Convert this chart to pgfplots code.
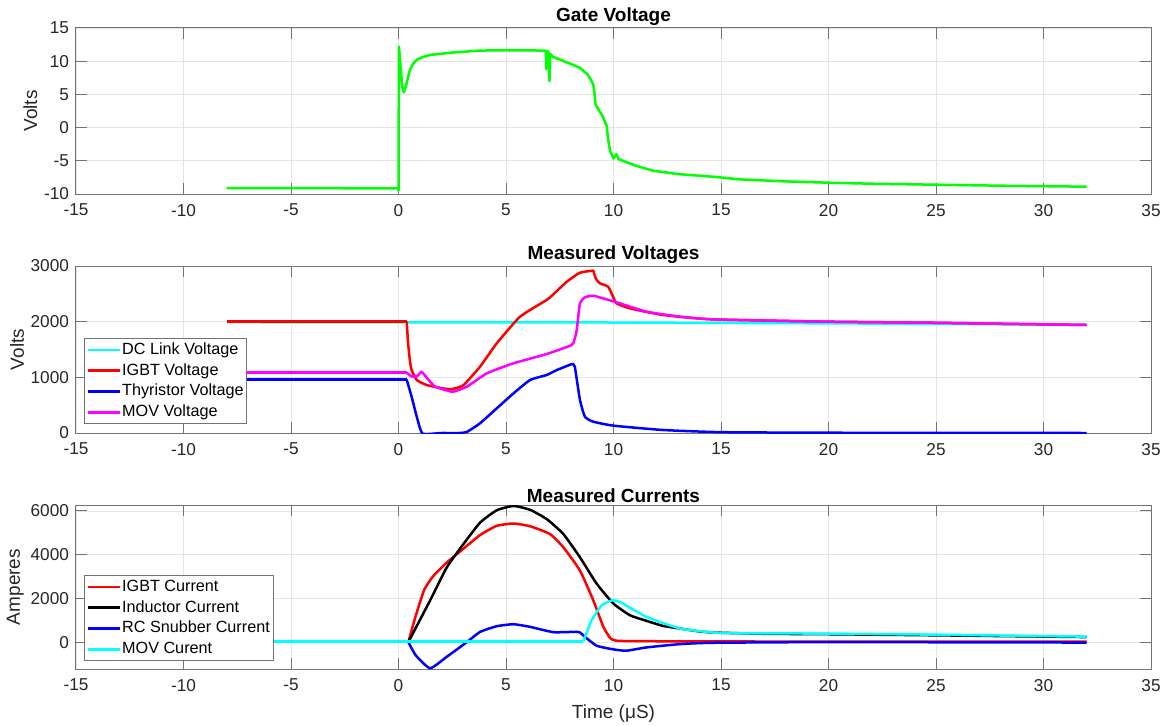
\documentclass[border=0pt]{standalone}
\usepackage{fontspec}
\setmainfont{Liberation Sans}
\usepackage{pgfplots}
\pgfplotsset{compat=1.18}

\definecolor{mgreen}{rgb}{0,1,0}
\definecolor{mcyan}{rgb}{0,1,1}
\definecolor{mred}{rgb}{1,0,0}
\definecolor{mblue}{rgb}{0,0,1}
\definecolor{mmag}{rgb}{1,0,1}
\definecolor{axgray}{gray}{0.45}
\definecolor{txt}{gray}{0.15}

\pgfplotsset{
  mat/.style={
    scale only axis, width=537.5pt,
    xmin=-15, xmax=35, xtick={-15,-10,...,35},
    grid=major, grid style={line width=0.4pt, draw=black!10},
    axis line style={draw=axgray, line width=0.5pt},
    tick style={draw=axgray, line width=0.5pt},
    tick align=inside, major tick length=5.4pt,
    /pgf/number format/assume math mode=true,
    /pgf/number format/1000 sep={},
    scaled y ticks=false,
    tick label style={font=\fontsize{8.6}{10}\selectfont, text=txt},
    xticklabel style={yshift=-1.5pt},
    label style={font=\fontsize{9.5}{11}\selectfont, text=txt},
    ylabel style={yshift=-3.5pt},
    title style={font=\fontsize{9.5}{11}\selectfont\bfseries, yshift=-8.5pt},
    every axis plot/.append style={line width=1.25pt, line join=round},
    sm/.style={smooth, tension=0.3},
    legend style={font=\fontsize{8.1}{9}\selectfont, draw=axgray, line width=0.5pt,
      inner sep=1pt, row sep=1.2pt,
      nodes={inner sep=0.6pt, text height=6.2pt, text depth=1.8pt},
      cells={anchor=west}},
    legend image code/.code={\draw[#1] (0pt,0pt) -- (16pt,0pt);},
  }
}

\begin{document}
\begin{tikzpicture}
\path[use as bounding box] (0,0) rectangle (583.5pt,362.5pt);

% gate voltage
\begin{axis}[mat, at={(38pt,265.5pt)}, anchor=south west, height=83pt,
  ymin=-10, ymax=15, ytick={-10,-5,...,15},
  title={Gate Voltage}, ylabel={Volts}]
\addplot[mgreen] coordinates {(-8,-9.1) (-0.02,-9.15) (0,-9.5) (0.02,12.2) (0.1,9) (0.18,6.0) (0.25,5.3) (0.35,6.3) (0.53,8.7) (0.7,9.7) (0.85,10.2) (1.1,10.6) (1.47,10.95) (2.5,11.3) (3.8,11.6) (5,11.65) (6.85,11.6) (6.88,8.8) (6.92,11.5) (6.98,11.4) (7.02,7.0) (7.06,11.1) (7.2,10.65) (8.0,9.6) (8.44,9.0) (8.8,8) (9.06,6.5) (9.12,5.0) (9.16,3.5) (9.3,2.75) (9.5,1.7) (9.68,0.25) (9.76,-2) (9.84,-3.5) (10.0,-4.65) (10.13,-4.0) (10.24,-4.75) (11,-5.7) (11.85,-6.5) (13,-7.0) (14.64,-7.4) (15.88,-7.8) (18,-8.1) (20,-8.3) (22,-8.45) (25,-8.6) (28,-8.75) (32,-8.9)};
\end{axis}

% measured voltages
\begin{axis}[mat, at={(38pt,146pt)}, anchor=south west, height=83.5pt,
  ymin=0, ymax=3000, ytick={0,1000,2000,3000},
  title={Measured Voltages}, ylabel={Volts},
  legend style={at={(0.0074,0.054)}, anchor=south west}]
\addplot[mcyan] coordinates {(-8,1990) (10,1985) (20,1970) (32,1945)};
\addlegendentry{DC Link Voltage}
\addplot[mred, forget plot] coordinates {(-8,2005) (0.38,2005)};
\addplot[mred, sm] coordinates {(0.38,2005) (0.45,1600) (0.53,1300) (0.61,1131) (0.85,952) (1.31,862) (2.09,800) (2.5,790) (3.02,860) (3.79,1191) (4.57,1611) (5.65,2089) (6.89,2389) (7.05,2437) (7.83,2718) (8.44,2879) (9.0,2915) (9.06,2915) (9.15,2800) (9.22,2748) (9.37,2688) (9.75,2628) (9.98,2449) (10.14,2330) (10.76,2240) (12.3,2120) (14.64,2041) (20,2000) (25,1980) (32,1940)};
\addlegendentry{IGBT Voltage}
\addplot[mblue, forget plot] coordinates {(-8,960) (0.38,960)};
\addplot[mblue, sm] coordinates {(0.38,960) (0.61,652) (0.85,293) (1.12,-10) (2,0) (2.8,0) (3.18,20) (3.79,174) (4.57,443) (5.35,713) (6.12,952) (6.89,1042) (7.36,1131) (8.0,1230) (8.08,1239) (8.2,1191) (8.44,593) (8.67,293) (9.06,203) (10,132) (12.3,54) (15,15) (20,5) (32,0)};
\addlegendentry{Thyristor Voltage}
\addplot[mmag, forget plot] coordinates {(-8,1085) (0.38,1085)};
\addplot[mmag, sm] coordinates {(0.38,1085) (0.55,1030) (0.69,1011) (0.9,1030) (1.07,1101) (1.3,1000) (1.70,832) (2.3,760) (2.56,742) (3.18,832) (4.11,1072) (5.35,1252) (6.89,1419) (8.05,1580) (8.2,1700) (8.29,1850) (8.44,2329) (8.67,2437) (9.06,2466) (9.68,2400) (10.3,2329) (11.54,2179) (13.1,2089) (14.64,2041) (20,2000) (25,1980) (32,1940)};
\addlegendentry{MOV Voltage}
\end{axis}

% measured currents
\begin{axis}[mat, at={(38pt,28pt)}, anchor=south west, height=82pt,
  ymin=-1230, ymax=6270, ytick={0,2000,4000,6000},
  title={Measured Currents}, ylabel={Amperes}, xlabel={Time (μS)},
  legend style={at={(0.0074,0.049)}, anchor=south west}]
\addplot[mred, forget plot] coordinates {(-8,10) (0.46,10)};
\addplot[mred, sm] coordinates {(0.46,10) (0.8,1200) (1.2,2400) (1.6,3000) (2.2,3600) (3.02,4273) (3.8,4900) (4.57,5318) (5.35,5424) (6.12,5300) (7.05,4939) (7.67,4333) (8.44,3273) (9.06,1909) (9.53,697) (9.85,180) (10.1,70) (10.77,45) (15,30) (25,20) (32,20)};
\addlegendentry{IGBT Current}
\addplot[black, forget plot] coordinates {(-8,0) (0.46,0)};
\addplot[black, sm] coordinates {(0.46,0) (1.47,1909) (2.25,3424) (3.02,4485) (3.8,5470) (4.57,6030) (5.35,6227) (6.12,6050) (6.9,5622) (7.67,4939) (8.44,3879) (9.22,2667) (10,1758) (10.77,1227) (11.54,970) (12.3,742) (13.1,621) (13.9,500) (14.64,439) (17,380) (20,360) (25,310) (32,230)};
\addlegendentry{Inductor Current}
\addplot[mblue, forget plot] coordinates {(-8,0) (0.46,0)};
\addplot[mblue, sm] coordinates {(0.46,0) (0.8,-600) (1.47,-1197) (2.25,-667) (3.18,0) (3.8,470) (4.57,727) (5.35,818) (6.12,697) (7.2,455) (8.2,470) (8.44,440) (8.67,242) (9.22,-167) (10,-333) (10.6,-394) (11.54,-242) (13.1,-91) (14.64,-30) (20,0) (32,-20)};
\addlegendentry{RC Snubber Current}
\addplot[mcyan, forget plot] coordinates {(-8,30) (8.6,30)};
\addplot[mcyan, sm] coordinates {(8.6,30) (8.98,1000) (9.45,1682) (9.93,1909) (10.3,1833) (11.54,1152) (13.1,621) (14.64,439) (16.19,400) (20,390) (25,340) (32,250)};
\addlegendentry{MOV Curent}
\end{axis}
\end{tikzpicture}
\end{document}
